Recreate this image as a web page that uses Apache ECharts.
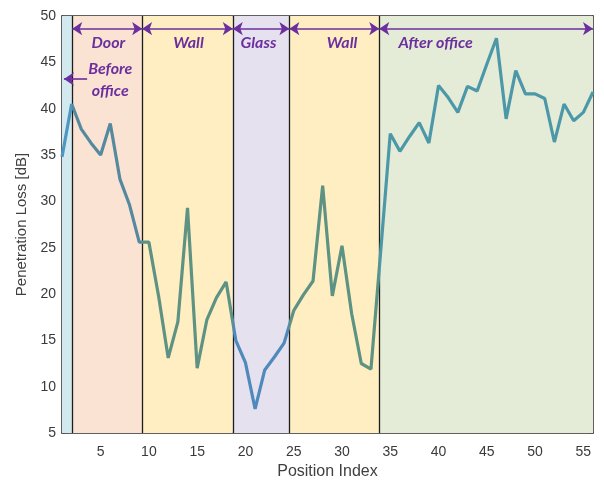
<!DOCTYPE html>
<html>
<head>
<meta charset="utf-8">
<script src="https://cdn.jsdelivr.net/npm/echarts@6/dist/echarts.min.js"></script>
<style>html,body{margin:0;padding:0;background:#fff}#c{width:604px;height:481px}</style>
</head>
<body>
<div id="c"></div>
<script>
// ---- data ----
var positions = [1,2,3,4,5,6,7,8,9,10,11,12,13,14,15,16,17,18,19,20,21,22,23,24,25,26,27,28,29,30,31,32,33,34,35,36,37,38,39,40,41,42,43,44,45,46,47,48,49,50,51,52,53,54,55,56];
var lossValues = [34.8,40.5,37.8,36.3,35.0,38.4,32.4,29.6,25.6,25.6,19.8,13.1,17.0,29.3,12.0,17.2,19.6,21.3,15.0,12.6,7.6,11.8,13.2,14.7,18.2,19.9,21.4,31.7,19.8,25.2,17.9,12.5,11.9,24.5,37.3,35.4,37.0,38.5,36.3,42.5,41.2,39.6,42.4,41.9,44.8,47.6,38.9,44.1,41.6,41.6,41.1,36.4,40.5,38.7,39.6,41.8];
var xTickLabels = [5,10,15,20,25,30,35,40,45,50,55];
var yTickLabels = [5,10,15,20,25,30,35,40,45,50];
// region boundaries (position index)
var regionEdges = [1, 2.06, 9.3, 18.69, 24.55, 33.86, 56];
var regionFill = ['#d3e9f0', '#fbe3d3', '#feeec2', '#e6e1ee', '#feeec2', '#e4ebd6'];
var regionLine = ['#4d97c0', '#55899f', '#5e9283', '#5089bb', '#5e9283', '#4c98a9'];
// annotations
var arrowLevel = 48.63;
var annotationArrows = [[2.06, 9.3], [9.3, 18.69], [18.69, 24.55], [24.55, 33.86], [33.86, 56]];
var annotationTexts = [
  {name: 'Door', x: 5.8, y: 47.15},
  {name: 'Wall', x: 14.1, y: 47.15},
  {name: 'Glass', x: 21.35, y: 47.15},
  {name: 'Wall', x: 30.0, y: 47.15},
  {name: 'After office', x: 39.7, y: 47.15},
  {name: 'Before\noffice', x: 6.0, y: 43.1}
];
var beforeArrow = {from: 3.6, to: 1.2, y: 43.2};

// ---- build ----
var purple = '#6b2f9e';
var seriesData = positions.map(function (p, i) { return [p, lossValues[i]]; });
var areas = [], pieces = [];
for (var i = 0; i < regionFill.length; i++) {
  areas.push([{xAxis: regionEdges[i], itemStyle: {color: regionFill[i]}}, {xAxis: regionEdges[i + 1]}]);
  var pc = {color: regionLine[i]};
  if (i > 0) pc.gte = regionEdges[i];
  if (i < regionFill.length - 1) pc.lt = regionEdges[i + 1];
  pieces.push(pc);
}
var dividers = regionEdges.slice(1, -1).map(function (e) { return {xAxis: e}; });
var arrowData = annotationArrows.map(function (a) {
  return [{coord: [a[0], arrowLevel]}, {coord: [a[1], arrowLevel]}];
});
arrowData.push([{coord: [beforeArrow.from, beforeArrow.y], symbol: 'none'}, {coord: [beforeArrow.to, beforeArrow.y], symbol: 'arrow'}]);
var labelFont = {fontFamily: 'Lato, "Liberation Sans", sans-serif', fontStyle: 'italic', fontWeight: 'bold', fontSize: 16, color: purple, lineHeight: 22};

var chart = echarts.init(document.getElementById('c'), null, {renderer: 'canvas'});
var tickStyle = {fontFamily: '"Liberation Sans", Arial, sans-serif', fontSize: 14, color: '#3a3a3a'};
chart.setOption({
  animation: false,
  grid: {left: 62, right: 11, top: 16, bottom: 48, containLabel: false, outerBoundsMode: 'none'},
  visualMap: {show: false, type: 'piecewise', dimension: 0, seriesIndex: 0, pieces: pieces},
  xAxis: [{
    type: 'value', min: 1, max: 56, position: 'bottom',
    name: 'Position Index', nameLocation: 'middle', nameGap: 30,
    nameTextStyle: {fontFamily: '"Liberation Sans", Arial, sans-serif', fontSize: 16, color: '#404040'},
    axisLine: {show: true, onZero: false, lineStyle: {color: '#2b2b2b', width: 1.5}},
    axisTick: {show: true, inside: true, length: 4, customValues: xTickLabels, lineStyle: {color: '#555'}},
    axisLabel: {customValues: xTickLabels, margin: 12, ...tickStyle},
    splitLine: {show: false}
  }, {
    type: 'value', min: 1, max: 56, position: 'top',
    axisLine: {show: true, onZero: false, lineStyle: {color: '#2b2b2b', width: 1.5}},
    axisTick: {show: true, inside: true, length: 4, customValues: xTickLabels, lineStyle: {color: '#555'}},
    axisLabel: {show: false},
    splitLine: {show: false}
  }],
  yAxis: [{
    type: 'value', min: 5, max: 50, interval: 5, position: 'left',
    name: 'Penetration Loss [dB]', nameLocation: 'middle', nameGap: 29,
    nameTextStyle: {fontFamily: '"Liberation Sans", Arial, sans-serif', fontSize: 15, color: '#404040'},
    axisLine: {show: true, onZero: false, lineStyle: {color: '#2b2b2b', width: 1.5}},
    axisTick: {show: true, inside: true, length: 4, lineStyle: {color: '#555'}},
    axisLabel: {customValues: yTickLabels, margin: 6, ...tickStyle},
    splitLine: {show: false}
  }, {
    type: 'value', min: 5, max: 50, interval: 5, position: 'right',
    axisLine: {show: true, onZero: false, lineStyle: {color: '#2b2b2b', width: 1.5}},
    axisTick: {show: true, inside: true, length: 4, lineStyle: {color: '#555'}},
    axisLabel: {show: false},
    splitLine: {show: false}
  }],
  series: [{
    type: 'line', z: 5, data: seriesData, showSymbol: false, symbol: 'none',
    lineStyle: {width: 3.2}, silent: true
  }, {
    type: 'line', z: 1, data: [], silent: true,
    markArea: {silent: true, data: areas}
  }, {
    type: 'line', z: 3, data: [], silent: true,
    markLine: {silent: true, symbol: 'none', label: {show: false},
      lineStyle: {color: '#1e1e1e', width: 1.3, type: 'solid'}, data: dividers}
  }, {
    type: 'line', z: 6, data: [], silent: true,
    markLine: {silent: true, symbol: ['arrow', 'arrow'], symbolSize: [10, 10], label: {show: false},
      lineStyle: {color: purple, width: 1.6, type: 'solid'}, data: arrowData},
    markPoint: {silent: true, symbol: 'circle', symbolSize: 1, itemStyle: {color: 'rgba(0,0,0,0)'},
      label: Object.assign({show: true, position: 'inside', formatter: '{b}', align: 'center'}, labelFont),
      data: annotationTexts.map(function (t) { return {name: t.name, coord: [t.x, t.y]}; })}
  }]
});
</script>
</body>
</html>
